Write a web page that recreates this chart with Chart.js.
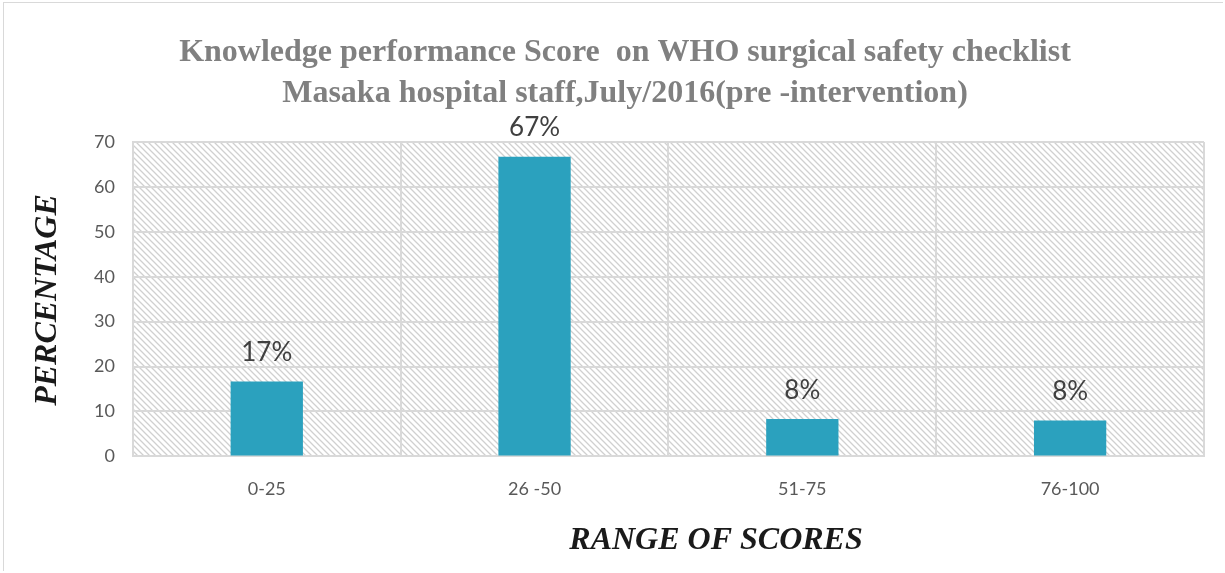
<!DOCTYPE html>
<html>
<head>
<meta charset="utf-8">
<script src="https://cdn.jsdelivr.net/npm/chart.js@4"></script>
<style>
    html, body { margin: 0; padding: 0; background: #fff; }
    .box { position: absolute; left: 3px; top: 2px; width: 1220px; height: 569px; border: 1px solid #d9d9d9; border-right: none; border-bottom: none; box-sizing: border-box; }
    #wrap { position: relative; width: 1225px; height: 573px; }
</style>
</head>
<body>
<div id="wrap">
    <div class="box"></div>
    <canvas id="scoreChart" width="1225" height="573"></canvas>
</div>
<script>
const categories = ["0-25", "26 -50", "51-75", "76-100"];
const percentages = [16.7, 66.7, 8.3, 8.0];
const yTicks = [0, 10, 20, 30, 40, 50, 60, 70];
const titleLines = ["Knowledge performance Score  on WHO surgical safety checklist",
                    "Masaka hospital staff,July/2016(pre -intervention)"];

const serif = "'Liberation Serif', 'Times New Roman', serif";

function makeHatch() {
    const c = document.createElement("canvas");
    c.width = 6;
    c.height = 6;
    const g = c.getContext("2d");
    g.fillStyle = "#ffffff";
    g.fillRect(0, 0, 6, 6);
    g.strokeStyle = "#d0d0d0";
    g.lineWidth = 1.3;
    g.beginPath();
    g.moveTo(0, 0); g.lineTo(6, 6);
    g.moveTo(-3, 3); g.lineTo(3, 9);
    g.moveTo(3, -3); g.lineTo(9, 3);
    g.stroke();
    return g.createPattern(c, "repeat");
}

const hatchPlugin = {
    id: "hatch",
    beforeDraw(chart) {
        const a = chart.chartArea;
        const ctx = chart.ctx;
        ctx.save();
        ctx.fillStyle = makeHatch();
        ctx.fillRect(a.left, a.top, a.right - a.left, a.bottom - a.top);
        ctx.restore();
    }
};

// title, value labels and axis titles, placed like the Excel original
const labelPlugin = {
    id: "barLabels",
    afterDatasetsDraw(chart) {
        const ctx = chart.ctx;
        const meta = chart.getDatasetMeta(0);
        ctx.save();
        ctx.textAlign = "center";
        ctx.textBaseline = "middle";

        ctx.fillStyle = "#808080";
        ctx.font = "bold 32px " + serif;
        ctx.fillText(titleLines[0], 625, 53);
        ctx.fillText(titleLines[1], 625, 94);

        ctx.font = "26px Lato, 'Open Sans', sans-serif";
        ctx.fillStyle = "#404040";
        meta.data.forEach((bar, i) => {
            ctx.fillText(Math.round(percentages[i]) + "%", bar.x, bar.y - 29);
        });

        ctx.fillStyle = "#1a1a1a";
        ctx.font = "italic bold 32px " + serif;
        ctx.fillText("RANGE OF SCORES", 716, 541);
        ctx.translate(48, 300);
        ctx.rotate(-Math.PI / 2);
        ctx.fillText("PERCENTAGE", 0, 0);
        ctx.restore();
    }
};

new Chart(document.getElementById("scoreChart"), {
    type: "bar",
    data: {
        labels: categories,
        datasets: [{
            data: percentages,
            backgroundColor: "#2ba1be",
            borderWidth: 0,
            barPercentage: 0.54,
            categoryPercentage: 0.5
        }]
    },
    plugins: [hatchPlugin, labelPlugin],
    options: {
        responsive: false,
        animation: false,
        layout: { padding: { left: 76, right: 21, top: 142, bottom: 51 } },
        plugins: {
            legend: { display: false },
            tooltip: { enabled: false },
            title: { display: false }
        },
        scales: {
            x: {
                grid: { color: "#d9d9d9", lineWidth: 2, drawTicks: false },
                border: { color: "#d9d9d9", width: 2 },
                ticks: { color: "#595959", font: { family: "Lato, 'Open Sans', sans-serif", size: 18 }, padding: 22 }
            },
            y: {
                min: 0,
                max: 70,
                afterBuildTicks: axis => { axis.ticks = yTicks.map(v => ({ value: v })); },
                grid: { color: "#d9d9d9", lineWidth: 2, drawTicks: false },
                border: { color: "#d9d9d9", width: 2 },
                ticks: { color: "#595959", font: { family: "Lato, 'Open Sans', sans-serif", size: 18 }, padding: 18 }
            }
        }
    }
});
</script>
</body>
</html>
